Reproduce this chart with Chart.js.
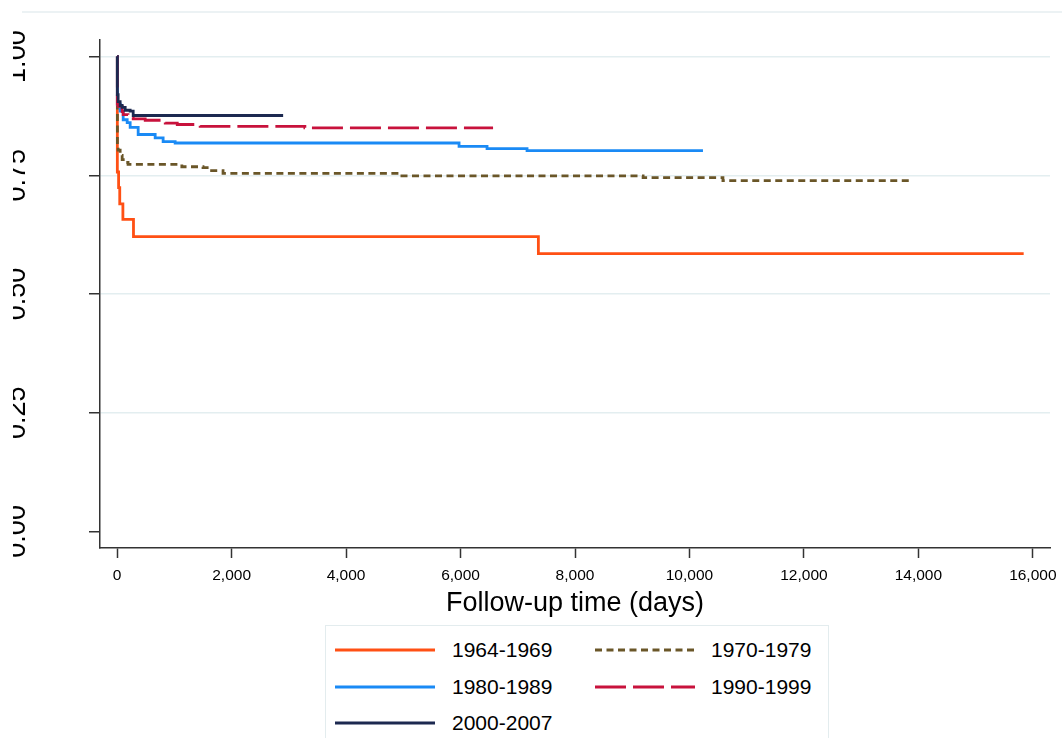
<!DOCTYPE html>
<html>
<head>
<meta charset="utf-8">
<script src="https://cdn.jsdelivr.net/npm/chart.js@4"></script>
<style>
  html, body { margin: 0; padding: 0; background: #fff; }
  body { position: relative; width: 1062px; height: 738px; overflow: hidden; font-family: "Liberation Sans", Arial, sans-serif; }
  #km { position: absolute; left: 13px; top: 0; }
  #legend { position: absolute; left: 325px; top: 625px; width: 502px; height: 130px; border: 1px solid #e3ecee; background: #fff; }
  #legend svg { position: absolute; }
  #legend span { position: absolute; font-size: 21px; line-height: 24px; color: #000; white-space: nowrap; }
</style>
</head>
<body>
<canvas id="km" width="1049" height="738"></canvas>
<div id="legend"></div>
<script>
// survival estimates (time in days, step after each time)
const labels = ['1964-1969', '1970-1979', '1980-1989', '1990-1999', '2000-2007'];
const colors = ['#ff5014', '#6a5628', '#1a8af5', '#c8123c', '#1c2950'];
const dashes = [[], [7, 4.5], [], [31, 7], []];

const t1964 = [0, 3, 25, 45, 100, 285, 7360, 15840];
const s1964 = [1, 0.757, 0.724, 0.690, 0.657, 0.621, 0.585, 0.585];

const t1970 = [0, 4, 17, 52, 87, 140, 190, 1130, 1500, 1650, 1850, 4890, 9190, 10585, 13850];
const s1970 = [1, 0.815, 0.803, 0.792, 0.783, 0.777, 0.773, 0.768, 0.766, 0.760, 0.754, 0.749, 0.745, 0.739, 0.739];

const t1980 = [0, 3, 52, 105, 175, 227, 367, 664, 803, 1013, 5974, 6463, 7162, 10236];
const s1980 = [1, 0.900, 0.885, 0.867, 0.861, 0.851, 0.836, 0.829, 0.821, 0.818, 0.811, 0.806, 0.802, 0.802];

const t1990 = [0, 3, 17, 87, 105, 190, 280, 490, 840, 1050, 1450, 3280, 6568];
const s1990 = [1, 0.900, 0.895, 0.884, 0.878, 0.872, 0.869, 0.866, 0.860, 0.857, 0.853, 0.850, 0.850];

const t2000 = [0, 3, 17, 52, 87, 140, 227, 280, 2900];
const s2000 = [1, 0.920, 0.905, 0.897, 0.893, 0.887, 0.885, 0.876, 0.876];

const xTicks = [0, 2000, 4000, 6000, 8000, 10000, 12000, 14000, 16000];
const yTicks = [0, 0.25, 0.5, 0.75, 1];

const times = [t1964, t1970, t1980, t1990, t2000];
const survs = [s1964, s1970, s1980, s1990, s2000];

const axisColor = '#333';
const gridColor = '#e3eef0';
const fontFamily = '"Liberation Sans", Arial, sans-serif';
const lineW = 2.8;

const datasets = labels.map((label, i) => ({
  label: label,
  data: times[i].map((t, j) => ({x: t, y: survs[i][j]})),
  borderColor: colors[i],
  borderWidth: lineW,
  borderDash: dashes[i],
  stepped: true,
  pointRadius: 0,
  fill: false,
  order: labels.length - i
}));

// faint frame line along the top of the graph region
const topRule = {
  id: 'topRule',
  beforeDraw(chart) {
    const ctx = chart.ctx;
    ctx.save();
    ctx.strokeStyle = '#e6eef0';
    ctx.lineWidth = 1.5;
    ctx.beginPath();
    ctx.moveTo(9, 12);
    ctx.lineTo(chart.width, 12);
    ctx.stroke();
    ctx.restore();
  }
};

new Chart(document.getElementById('km'), {
  type: 'line',
  data: { datasets: datasets },
  plugins: [topRule],
  options: {
    responsive: false,
    animation: false,
    layout: { padding: { left: 0, right: 12, top: 40, bottom: 118 } },
    plugins: { legend: { display: false }, tooltip: { enabled: false } },
    scales: {
      x: {
        type: 'linear',
        min: -300,
        max: 16300,
        afterBuildTicks: (scale) => { scale.ticks = xTicks.map(v => ({value: v})); },
        afterFit: (scale) => { scale.height = 72; scale.paddingLeft = 0; scale.paddingRight = 0; },
        ticks: {
          autoSkip: false,
          maxRotation: 0,
          padding: 8,
          color: '#000',
          font: { family: fontFamily, size: 15.5 },
          callback: (v) => v.toLocaleString('en-US')
        },
        grid: { drawOnChartArea: false, drawTicks: true, tickLength: 10, tickColor: axisColor, tickWidth: 1.5 },
        border: { color: axisColor, width: 1.5 },
        title: {
          display: true,
          text: 'Follow-up time (days)',
          color: '#000',
          font: { family: fontFamily, size: 27 },
          padding: { top: 0, bottom: 0 }
        }
      },
      y: {
        type: 'linear',
        min: -0.035,
        max: 1.035,
        afterBuildTicks: (scale) => { scale.ticks = yTicks.map(v => ({value: v})); },
        afterFit: (scale) => { scale.width = 87; scale.paddingTop = 0; scale.paddingBottom = 0; },
        ticks: {
          autoSkip: false,
          minRotation: 90,
          maxRotation: 90,
          crossAlign: 'center',
          padding: 45,
          color: '#000',
          font: { family: fontFamily, size: 27 },
          callback: (v) => Number(v).toFixed(2)
        },
        grid: {
          color: (ctx) => (ctx.tick && ctx.tick.value === 0) ? 'rgba(0,0,0,0)' : gridColor,
          lineWidth: 1.5,
          drawTicks: true,
          tickLength: 11,
          tickColor: axisColor,
          tickWidth: 1.5
        },
        border: { color: axisColor, width: 1.5 }
      }
    }
  }
});

// legend box in two columns, as in the original graph
const legend = document.getElementById('legend');
const slots = [
  {lx: 9, tx: 126, cy: 24}, {lx: 269, tx: 385, cy: 24},
  {lx: 9, tx: 126, cy: 61}, {lx: 269, tx: 385, cy: 61},
  {lx: 9, tx: 126, cy: 97}
];
labels.forEach((label, i) => {
  const s = slots[i];
  const svgNS = 'http://www.w3.org/2000/svg';
  const svg = document.createElementNS(svgNS, 'svg');
  svg.setAttribute('width', '100');
  svg.setAttribute('height', '8');
  svg.style.left = s.lx + 'px';
  svg.style.top = (s.cy - 4) + 'px';
  const line = document.createElementNS(svgNS, 'line');
  line.setAttribute('x1', '0');
  line.setAttribute('y1', '4');
  line.setAttribute('x2', '100');
  line.setAttribute('y2', '4');
  line.setAttribute('stroke', colors[i]);
  line.setAttribute('stroke-width', String(lineW));
  if (dashes[i].length) line.setAttribute('stroke-dasharray', dashes[i].join(' '));
  svg.appendChild(line);
  legend.appendChild(svg);
  const span = document.createElement('span');
  span.textContent = label;
  span.style.left = s.tx + 'px';
  span.style.top = (s.cy - 12) + 'px';
  legend.appendChild(span);
});
</script>
</body>
</html>
